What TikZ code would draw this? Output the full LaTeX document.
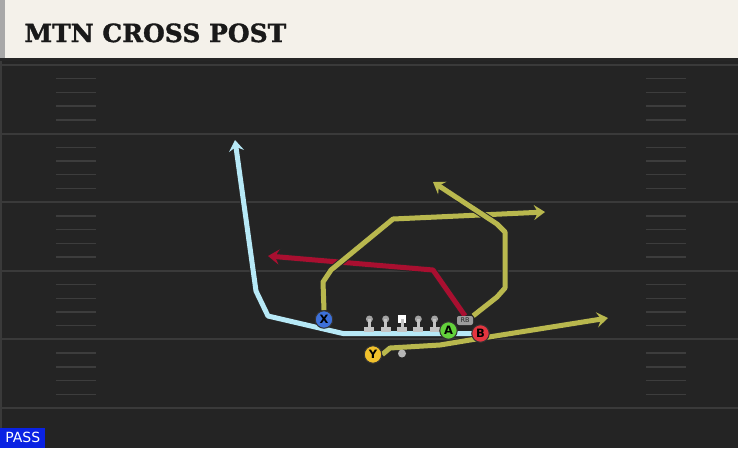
\documentclass[tikz,border=0pt]{standalone}
\usepackage{fontspec}
\setmainfont{DejaVu Sans}
\newfontfamily\titlefont[BoldFeatures={FakeBold=1.4}]{DejaVu Serif}
\usetikzlibrary{arrows.meta,positioning}
\definecolor{fieldbg}{HTML}{242424}
\definecolor{yardgrey}{HTML}{3A3A3A}
\definecolor{hashgrey}{HTML}{3D3D3D}
\definecolor{barcream}{HTML}{F4F1EA}
\definecolor{bargrey}{HTML}{A8A8A8}
\definecolor{postblue}{HTML}{B7E9F7}
\definecolor{crossred}{HTML}{A90F30}
\definecolor{routeolive}{HTML}{B9B84E}
\definecolor{xblue}{HTML}{3D70D9}
\definecolor{agreen}{HTML}{63D13B}
\definecolor{bred}{HTML}{E3353F}
\definecolor{ygold}{HTML}{F1C12C}
\definecolor{rbgrey}{HTML}{9C9C9C}
\definecolor{headgrey}{HTML}{A3A3A3}
\definecolor{stemgrey}{HTML}{C4C4C4}
\definecolor{passblue}{HTML}{0A22E3}
\pgfdeclarelayer{field}
\pgfdeclarelayer{routes}
\pgfsetlayers{field,routes,main}

\begin{document}
\begin{tikzpicture}[x=1pt,y=-1pt,node distance=16.3pt,>=stealth,thick]
\tikzstyle{yardline}=[draw=yardgrey,line width=2pt]
\tikzstyle{hash}=[draw=hashgrey,line width=1.4pt]
\tikzstyle{route}=[line width=5pt,line join=round,-{Stealth[length=11pt,width=15pt,inset=4pt]},preaction={draw=black!85,line width=7pt,-{Stealth[length=13pt,width=18pt,inset=4.5pt]}}]
\tikzstyle{player}=[circle,draw=black!80,line width=1pt,minimum size=17.5pt,inner sep=0pt,text=black,font=\bfseries\fontsize{11.5}{11.5}\selectfont]
\tikzstyle{lineman}=[circle,fill=headgrey,minimum size=7pt,inner sep=0pt]
\tikzstyle{snapper}=[rectangle,fill=white,minimum size=8pt,inner sep=0pt]
\useasboundingbox (0,0) rectangle (738,448);

% field
\begin{pgfonlayer}{field}
\fill[fieldbg] (0,0) rectangle (738,448);
\fill[yardgrey] (0,58) rectangle (2,448);
\foreach \i in {0,...,5}
  \draw[yardline] (0,65+68.6*\i) -- (738,65+68.6*\i);
\foreach \i in {0,...,4}
  \foreach \k in {1,...,4} {
    \draw[hash] (56,65+68.6*\i+13.72*\k) -- (96,65+68.6*\i+13.72*\k);
    \draw[hash] (646,65+68.6*\i+13.72*\k) -- (686,65+68.6*\i+13.72*\k);
  }
\end{pgfonlayer}

% title bar
\fill[barcream] (0,0) rectangle (738,58);
\fill[bargrey] (0,0) rectangle (5,58);
\fill[black!85] (0,58) rectangle (738,61);
\node[anchor=base west,text=black!90,font=\titlefont\bfseries\fontsize{25}{25}\selectfont] (title) at (21,42) {MTN CROSS POST};

% line
\node[snapper] (c) at (402,319) {};
\node[lineman, left of=c] (lg) {};
\node[lineman, left of=lg] (lt) {};
\node[lineman, right of=c] (rg) {};
\node[lineman, right of=rg] (rt) {};
\foreach \n in {lt,lg,c,rg,rt} {
  \fill[stemgrey] ([xshift=-1.5pt]\n.center) rectangle ([xshift=1.5pt,yshift=-9pt]\n.center);
  \fill[stemgrey] ([xshift=-5pt,yshift=-8pt]\n.center) rectangle ([xshift=5pt,yshift=-13pt]\n.center);
}
\node[circle,fill=headgrey!80,minimum size=8pt,inner sep=0pt] (ball) at (402,353.5) {};

% players
\node[player,fill=xblue] (X) at (324,319.5) {X};
\node[player,fill=agreen] (A) at (448.5,330.5) {A};
\node[player,fill=bred] (B) at (480.5,333.5) {B};
\node[player,fill=ygold] (Y) at (373,354.5) {Y};
\node[rectangle,rounded corners=2pt,fill=rbgrey,minimum width=16pt,minimum height=9pt,inner sep=0pt,text=black!85,font=\fontsize{6.5}{6.5}\selectfont] (RB) at (465,320.5) {RB};

\coordinate (postend) at (235,140);
\coordinate (crossend) at (268,256);
\coordinate (digend) at (545,212);
\coordinate (cornerend) at (433,182);
\coordinate (flatend) at (608,318);

% routes
\begin{pgfonlayer}{routes}
\draw[route,postblue] (B.center) -- (343,333.5) -- (268,316) -- (256,291) -- (postend);
\draw[route,crossred] (RB.north) -- (433,270) -- (crossend);
\draw[route,routeolive] (X.north) -- (323,282) -- (331,270) -- (393,219) -- (digend);
\draw[route,routeolive] (RB.north east) -- (497,297) -- (505,288) -- (505,232) -- (497,224) -- (cornerend);
\draw[route,routeolive] (Y.east) -- (390,348) -- (440,345) -- (470,340) -- (flatend);
\end{pgfonlayer}

\node[fill=passblue,text=white,anchor=south west,minimum width=45pt,minimum height=20pt,inner sep=0pt,font=\fontsize{14}{14}\selectfont] (pass) at (0,448) {PASS};
\end{tikzpicture}
\end{document}
